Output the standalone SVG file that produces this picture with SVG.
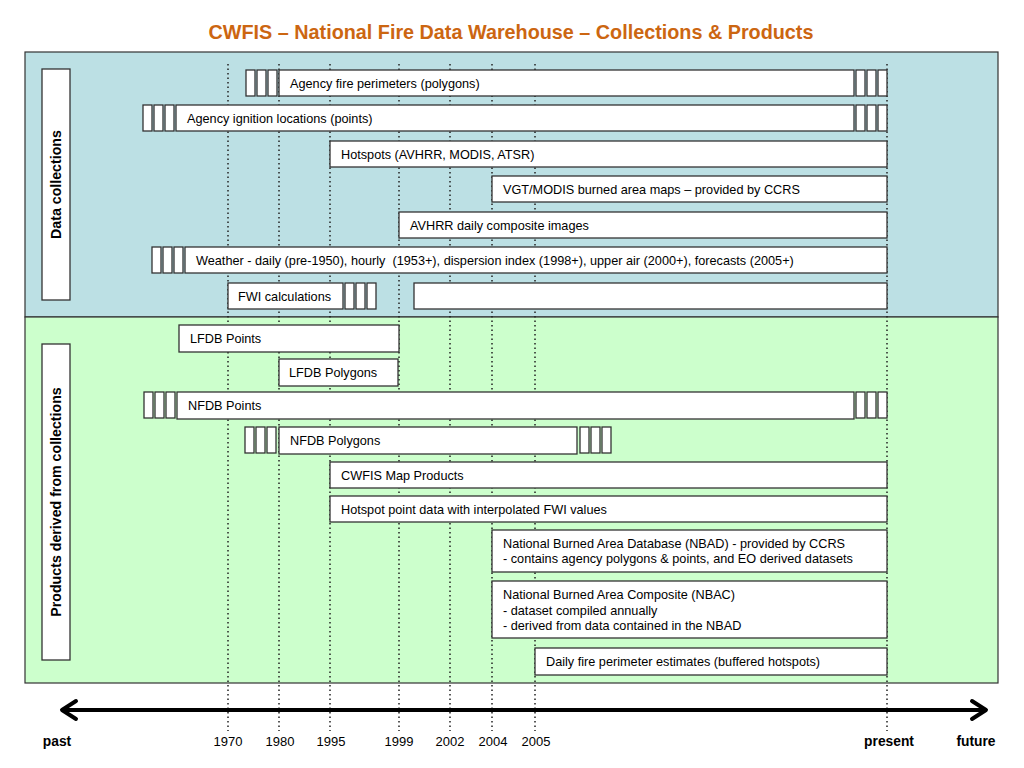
<svg xmlns="http://www.w3.org/2000/svg" width="1024" height="768" viewBox="0 0 1024 768">
<defs>
<style>
.bx{fill:#fff;stroke:#333;stroke-width:1.3}
.st{fill:#fff;stroke:#333;stroke-width:1.3}
.t{font-family:"Liberation Sans",Arial,sans-serif;font-size:12.7px;fill:#000}
.b{font-family:"Liberation Sans",Arial,sans-serif;font-size:14.2px;font-weight:bold;fill:#000}
.ax{font-family:"Liberation Sans",Arial,sans-serif;font-size:13.8px;font-weight:bold;fill:#000;text-anchor:middle}
.yr{font-family:"Liberation Sans",Arial,sans-serif;font-size:13px;fill:#000;text-anchor:middle}
.dl{stroke:#222;stroke-width:1.5;stroke-dasharray:1.5,3;fill:none}
</style>
<g id="stubs3"><rect class="st" x="0" y="0" width="9" height="26"/><rect class="st" x="11" y="0" width="9" height="26"/><rect class="st" x="22" y="0" width="9" height="26"/></g>
</defs>
<rect width="1024" height="768" fill="#fff"/>
<text x="511" y="39" text-anchor="middle" font-family="'Liberation Sans',Arial,sans-serif" font-size="19.8" font-weight="bold" fill="#CC6611">CWFIS – National Fire Data Warehouse – Collections &amp; Products</text>
<g id="panels">
<rect x="25" y="52" width="973" height="265" fill="#BCE0E4" stroke="#333" stroke-width="1.2"/>
<rect x="25" y="317" width="973" height="366" fill="#CCFFCC" stroke="#333" stroke-width="1.2"/>
</g>
<g id="connectors">
<line class="dl" x1="228" y1="64" x2="228" y2="731"/>
<line class="dl" x1="279" y1="64" x2="279" y2="731"/>
<line class="dl" x1="330" y1="64" x2="330" y2="731"/>
<line class="dl" x1="399" y1="64" x2="399" y2="731"/>
<line class="dl" x1="450" y1="64" x2="450" y2="731"/>
<line class="dl" x1="492" y1="64" x2="492" y2="731"/>
<line class="dl" x1="535" y1="64" x2="535" y2="731"/>
<line class="dl" x1="887" y1="64" x2="887" y2="731"/>
<line x1="64" y1="710" x2="984" y2="710" stroke="#000" stroke-width="4"/>
<polyline points="76,701 62,710 76,719" fill="none" stroke="#000" stroke-width="4" stroke-linecap="round" stroke-linejoin="round"/>
<polyline points="972,701 986,710 972,719" fill="none" stroke="#000" stroke-width="4" stroke-linecap="round" stroke-linejoin="round"/>
</g>
<g id="label-data">
<rect class="bx" x="42" y="69" width="28" height="231"/>
<text class="b" transform="translate(61,184.5) rotate(-90)" text-anchor="middle">Data collections</text>
</g>
<g id="label-products">
<rect class="bx" x="42" y="344" width="28" height="316"/>
<text class="b" transform="translate(61,502) rotate(-90)" text-anchor="middle">Products derived from collections</text>
</g>
<g id="agency-fire-perimeters">
<use href="#stubs3" x="246" y="70"/>
<rect class="bx" x="279" y="70" width="575" height="26"/>
<use href="#stubs3" x="856" y="70"/>
<text class="t" x="290" y="87.5">Agency fire perimeters (polygons)</text>
</g>
<g id="agency-ignition">
<use href="#stubs3" x="143" y="105"/>
<rect class="bx" x="176" y="105" width="678" height="26"/>
<use href="#stubs3" x="856" y="105"/>
<text class="t" x="187" y="122.5">Agency ignition locations (points)</text>
</g>
<g id="hotspots">
<rect class="bx" x="330" y="141" width="557" height="26"/>
<text class="t" x="341" y="158.5">Hotspots (AVHRR, MODIS, ATSR)</text>
</g>
<g id="vgt-modis">
<rect class="bx" x="492" y="176" width="395" height="26"/>
<text class="t" x="503" y="193.5">VGT/MODIS burned area maps – provided by CCRS</text>
</g>
<g id="avhrr-composite">
<rect class="bx" x="399" y="212" width="488" height="26"/>
<text class="t" x="410" y="229.5">AVHRR daily composite images</text>
</g>
<g id="weather">
<use href="#stubs3" x="152" y="247"/>
<rect class="bx" x="185" y="247" width="702" height="26"/>
<text class="t" x="196" y="264.5" xml:space="preserve">Weather - daily (pre-1950), hourly  (1953+), dispersion index (1998+), upper air (2000+), forecasts (2005+)</text>
</g>
<g id="fwi">
<rect class="bx" x="228" y="283" width="115" height="26"/>
<use href="#stubs3" x="345" y="283"/>
<rect class="bx" x="414" y="283" width="473" height="26"/>
<text class="t" x="238" y="300.5">FWI calculations</text>
</g>
<g id="lfdb-points">
<rect class="bx" x="179" y="325" width="220" height="27"/>
<text class="t" x="190" y="342.5">LFDB Points</text>
</g>
<g id="lfdb-polygons">
<rect class="bx" x="279" y="359" width="119" height="27"/>
<text class="t" x="289" y="377">LFDB Polygons</text>
</g>
<g id="nfdb-points">
<use href="#stubs3" x="144" y="392"/>
<rect class="bx" x="177" y="392" width="677" height="27"/>
<use href="#stubs3" x="856" y="392"/>
<text class="t" x="188" y="410">NFDB Points</text>
</g>
<g id="nfdb-polygons">
<use href="#stubs3" x="245" y="427"/>
<rect class="bx" x="279" y="427" width="298" height="27"/>
<use href="#stubs3" x="580" y="427"/>
<text class="t" x="290" y="445">NFDB Polygons</text>
</g>
<g id="cwfis-map">
<rect class="bx" x="330" y="462" width="557" height="26"/>
<text class="t" x="341" y="479.5">CWFIS Map Products</text>
</g>
<g id="hotspot-fwi">
<rect class="bx" x="330" y="496" width="557" height="26"/>
<text class="t" x="341" y="513.5">Hotspot point data with interpolated FWI values</text>
</g>
<g id="nbad">
<rect class="bx" x="492" y="530" width="395" height="42"/>
<text class="t" x="503" y="548">National Burned Area Database (NBAD) - provided by CCRS</text>
<text class="t" x="503" y="563">- contains agency polygons &amp; points, and EO derived datasets</text>
</g>
<g id="nbac">
<rect class="bx" x="492" y="581" width="395" height="57"/>
<text class="t" x="503" y="599">National Burned Area Composite (NBAC)</text>
<text class="t" x="503" y="614.5">- dataset compiled annually</text>
<text class="t" x="503" y="630">- derived from data contained in the NBAD</text>
</g>
<g id="daily-perimeter">
<rect class="bx" x="535" y="648" width="352" height="27"/>
<text class="t" x="546" y="666">Daily fire perimeter estimates (buffered hotspots)</text>
</g>
<g id="axis-labels">
<text class="ax" x="57" y="746">past</text>
<text class="yr" x="228" y="746">1970</text>
<text class="yr" x="280" y="746">1980</text>
<text class="yr" x="331" y="746">1995</text>
<text class="yr" x="399" y="746">1999</text>
<text class="yr" x="450" y="746">2002</text>
<text class="yr" x="493" y="746">2004</text>
<text class="yr" x="536" y="746">2005</text>
<text class="ax" x="889" y="746">present</text>
<text class="ax" x="976" y="746">future</text>
</g>
</svg>
